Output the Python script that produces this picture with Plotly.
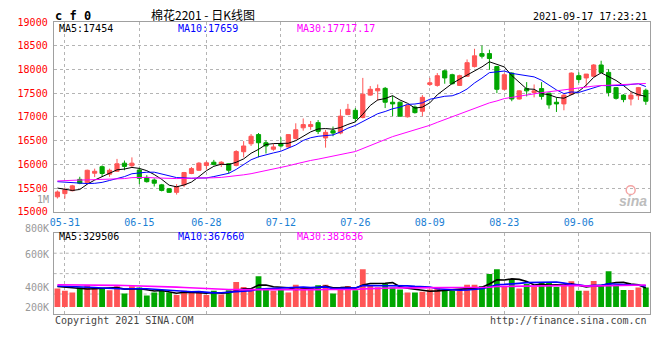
import plotly.graph_objects as go
import pandas as pd

# ---------------- data ----------------
dates = ["05-28","05-31","06-01","06-02","06-03","06-04","06-07","06-08","06-09","06-10",
         "06-11","06-15","06-16","06-17","06-18","06-21","06-22","06-23","06-24","06-25",
         "06-28","06-29","06-30","07-01","07-02","07-05","07-06","07-07","07-08","07-09",
         "07-12","07-13","07-14","07-15","07-16","07-19","07-20","07-21","07-22","07-23",
         "07-26","07-27","07-28","07-29","07-30","08-02","08-03","08-04","08-05","08-06",
         "08-09","08-10","08-11","08-12","08-13","08-16","08-17","08-18","08-19","08-20",
         "08-23","08-24","08-25","08-26","08-27","08-30","08-31","09-01","09-02","09-03",
         "09-06","09-07","09-08","09-09","09-10","09-13","09-14","09-15","09-16","09-17"]

open_ = [15316,15383,15445,15684,15615,15813,15951,15793,15854,16025,
         15971,15881,15725,15670,15568,15486,15410,15568,15807,15875,
         15977,16045,16004,16012,15977,16266,16434,16627,16455,16319,
         16434,16367,16545,16770,16797,16879,16557,16709,16660,17049,
         17139,16988,17459,17549,17602,17309,17309,17002,17207,17119,
         17684,17664,17971,17889,17664,17856,18061,18334,18334,18061,
         17582,17924,17377,17596,17514,17596,17500,17309,17274,17479,
         17869,17821,17856,18094,17938,17617,17459,17377,17447,17561]
high = [15450,15512,15568,15738,15889,15910,15977,15910,16115,16080,
        16147,15930,15772,15705,15588,15500,15582,15840,15943,16046,
        16066,16094,16066,16025,16299,16490,16639,16660,16504,16434,
        16572,16639,16865,16967,16914,16934,16729,16797,17160,17274,
        17186,17822,17651,17684,17631,17446,17323,17254,17242,17459,
        17822,17924,17992,17910,17889,18211,18436,18504,18416,18074,
        17924,17938,17561,17733,17684,17733,17514,17412,17479,17938,
        17938,17903,18114,18184,18006,17631,17479,17528,17631,17596]
low = [15280,15280,15430,15582,15602,15731,15738,15738,15840,15875,
       15930,15582,15615,15533,15430,15397,15363,15520,15793,15861,
       15889,15977,15943,15807,15957,16147,16387,16147,16229,16285,
       16352,16352,16524,16709,16729,16639,16352,16592,16633,17037,
       16885,16967,17446,17344,17186,17016,17002,16988,17070,17016,
       17651,17637,17699,17684,17651,17842,18041,18231,17992,17500,
       17561,17330,17365,17432,17412,17365,17172,17104,17139,17459,
       17719,17631,17842,17924,17432,17365,17309,17242,17356,17254]
close = [15418,15465,15547,15602,15875,15854,15807,15875,16012,15957,
         16025,15705,15635,15602,15451,15410,15533,15828,15910,16025,
         16033,15998,16045,15875,16270,16387,16592,16455,16387,16367,
         16387,16627,16729,16838,16838,16695,16674,16660,17016,17160,
         16967,17479,17582,17596,17309,17274,17016,17242,17090,17412,
         17719,17869,17821,17699,17869,18143,18287,18278,18231,17582,
         17889,17377,17549,17549,17549,17432,17254,17274,17459,17924,
         17787,17903,18094,17938,17514,17391,17365,17459,17617,17330]
volume = [319e3,281e3,252e3,336e3,376e3,343e3,319e3,292e3,360e3,235e3,
          360e3,336e3,202e3,252e3,281e3,252e3,208e3,281e3,247e3,247e3,
          208e3,281e3,218e3,292e3,432e3,348e3,292e3,533e3,302e3,281e3,
          302e3,252e3,386e3,336e3,336e3,376e3,386e3,235e3,348e3,365e3,
          292e3,655e3,376e3,343e3,398e3,336e3,302e3,252e3,252e3,264e3,
          302e3,331e3,292e3,281e3,292e3,386e3,386e3,365e3,571e3,655e3,
          360e3,487e3,319e3,398e3,348e3,420e3,420e3,348e3,376e3,444e3,
          281e3,281e3,449e3,386e3,617e3,386e3,297e3,297e3,336e3,336e3]

# moving-average values at the start of the window (read from the picture,
# the earlier trading days are not shown)
ma5_head = [15500, 15470, 15450, 15470]
ma10_head = [15635, 15625, 15610, 15600, 15595, 15600, 15620, 15660, 15700]
ma30_head = [15650, 15660, 15665, 15670, 15672, 15675, 15680, 15685, 15690, 15700,
             15720, 15730, 15725, 15715, 15705, 15700, 15700, 15705, 15705, 15708,
             15711, 15717, 15725, 15738, 15752, 15779, 15803, 15834, 15861]
vol_ma5_head = [355e3, 345e3, 330e3, 320e3]
vol_ma10_head = [365e3, 362e3, 355e3, 350e3, 345e3, 338e3, 330e3, 322e3, 316e3]
vol_ma30_head = [386e3, 386e3, 385e3, 385e3, 384e3, 383e3, 382e3, 378e3, 375e3, 372e3,
                 370e3, 368e3, 365e3, 362e3, 358e3, 352e3, 345e3, 338e3, 330e3, 322e3,
                 315e3, 310e3, 306e3, 303e3, 301e3, 300e3, 299e3, 298e3, 298e3]

date_ticks = ["05-31", "06-15", "06-28", "07-12", "07-26", "08-09", "08-23", "09-06"]
price_ticks = [15000, 15500, 16000, 16500, 17000, 17500, 18000, 18500, 19000]
vol_labels = ["800K", "600K", "400K", "200K"]

title_code = "c f 0"
title_name = "棉花2201 - 日K线图"
timestamp = "2021-09-17 17:23:21"
ma_text = ["MA5:17454", "MA10:17659", "MA30:17717.17"]
vol_ma_text = ["MA5:329506", "MA10:367660", "MA30:383636"]
copyright_text = "Copyright 2021 SINA.COM"
url_text = "http://finance.sina.com.cn"


def moving_average(values, n, head):
    out = pd.Series(values, dtype=float).rolling(n).mean().tolist()
    out[:len(head)] = head
    return out


ma5 = moving_average(close, 5, ma5_head)
ma10 = moving_average(close, 10, ma10_head)
ma30 = moving_average(close, 30, ma30_head)
vma5 = moving_average(volume, 5, vol_ma5_head)
vma10 = moving_average(volume, 10, vol_ma10_head)
vma30 = moving_average(volume, 30, vol_ma30_head)

# ---------------- styling ----------------
W, H = 660, 360
RED = "#ff5555"
GREEN = "#00a600"
GRID = "#b4b4b4"
AXIS = "#a0a0a0"
MONO = "DejaVu Sans Mono"


def px(x):
    return x / W


def py(y):
    return 1 - y / H


bar_colors = [RED if c >= o else GREEN for o, c in zip(open_, close)]

fig = go.Figure()
fig.add_trace(go.Candlestick(
    x=dates, open=open_, high=high, low=low, close=close,
    increasing=dict(line=dict(color=RED, width=1), fillcolor=RED),
    decreasing=dict(line=dict(color=GREEN, width=1), fillcolor=GREEN),
    whiskerwidth=0, xaxis="x", yaxis="y", hoverinfo="skip", showlegend=False))
for vals, col in [(ma5, "#000000"), (ma10, "#0000ff"), (ma30, "#ff00ff")]:
    fig.add_trace(go.Scatter(x=dates, y=vals, mode="lines", line=dict(color=col, width=1),
                             xaxis="x", yaxis="y", hoverinfo="skip", showlegend=False))

fig.add_trace(go.Bar(x=dates, y=volume, marker=dict(color=bar_colors, line=dict(width=0)),
                     width=0.78, xaxis="x2", yaxis="y2", hoverinfo="skip", showlegend=False))
for vals, col in [(vma5, "#000000"), (vma10, "#0000ff"), (vma30, "#ff00ff")]:
    fig.add_trace(go.Scatter(x=dates, y=vals, mode="lines", line=dict(color=col, width=1.6),
                             xaxis="x2", yaxis="y2", hoverinfo="skip", showlegend=False))

xdom = [px(50), px(649.5)]
common_x = dict(type="category", categoryorder="array", categoryarray=dates,
                range=[-0.5, len(dates) - 0.5], domain=xdom,
                showline=True, mirror=True, linecolor=AXIS, linewidth=1,
                showgrid=True, gridcolor=GRID, griddash="dot", gridwidth=1,
                tickmode="array", tickvals=date_ticks, ticks="", zeroline=False,
                fixedrange=True)

annotations = []


def text(x, y, s, color="#000000", size=10, anchor="left", family=MONO, bold=False, italic=False):
    if bold:
        s = "<b>" + s + "</b>"
    if italic:
        s = "<i>" + s + "</i>"
    annotations.append(dict(x=px(x), y=py(y), xref="paper", yref="paper", text=s,
                            showarrow=False, xanchor=anchor, yanchor="middle",
                            font=dict(family=family, size=size, color=color)))


text(49, 11, title_code, size=12, bold=True)
text(200, 10, title_name, size=12, anchor="center", family="Noto Sans CJK SC")
text(649, 12, timestamp, size=10, anchor="right")
for s, x, col in zip(ma_text, [53, 173, 293], ["#000000", "#0000ff", "#ff00ff"]):
    text(x, 24.5, s, color=col)
for s, x, col in zip(vol_ma_text, [53, 173, 293], ["#000000", "#0000ff", "#ff00ff"]):
    text(x, 238.5, s, color=col)
for s, y in zip(vol_labels, [230, 257, 290.5, 310.7]):
    text(47, y, s, color="#999999", anchor="right")
text(47, 200, "1M", color="#999999", anchor="right")
text(49, 324, copyright_text, color="#444444")
text(649, 324, url_text, color="#444444", anchor="right")
text(633, 202, "sina", color="#bdbdbd", size=14, anchor="center",
     family="Liberation Sans", bold=True, italic=True)

shapes = []
for f in [0.25, 0.5, 0.75]:
    shapes.append(dict(type="line", xref="x2 domain", yref="y2 domain", x0=0, x1=1, y0=f, y1=f,
                       line=dict(color=GRID, width=1, dash="dot"), layer="below"))
shapes.append(dict(type="circle", xref="paper", yref="paper",
                   x0=px(626), x1=px(635), y0=py(195), y1=py(186),
                   line=dict(color="#f4a4a4", width=1.5)))

fig.update_layout(
    width=W, height=H, margin=dict(l=0, r=0, t=0, b=0),
    paper_bgcolor="#ffffff", plot_bgcolor="#ffffff",
    boxgap=0.2, bargap=0.2, showlegend=False,
    xaxis=dict(common_x, anchor="y", ticktext=date_ticks, rangeslider=dict(visible=False),
               tickfont=dict(family=MONO, size=10, color="#1a80d4"), ticklabelstandoff=1),
    xaxis2=dict(common_x, anchor="y2", matches="x", showticklabels=False),
    yaxis=dict(domain=[py(212.7), py(17.5)], range=[15000, 19000], tickmode="array",
               tickvals=price_ticks, ticktext=[str(v) for v in price_ticks],
               showline=True, mirror=True, linecolor=AXIS, linewidth=1,
               showgrid=True, gridcolor=GRID, griddash="dot", zeroline=False,
               ticks="", ticklabelstandoff=3, fixedrange=True,
               tickfont=dict(family=MONO, size=10, color="#ff0000")),
    yaxis2=dict(domain=[py(318.3), py(234.3)], range=[-127680, 1283520],
                showline=True, mirror=True, linecolor=AXIS, linewidth=1,
                showgrid=False, zeroline=False, showticklabels=False, ticks="",
                fixedrange=True),
    annotations=annotations, shapes=shapes,
)

fig.write_html(
    "out.html",
    config={"displayModeBar": False},
    post_script="document.body.style.margin='0';document.body.style.overflow='hidden';",
)
